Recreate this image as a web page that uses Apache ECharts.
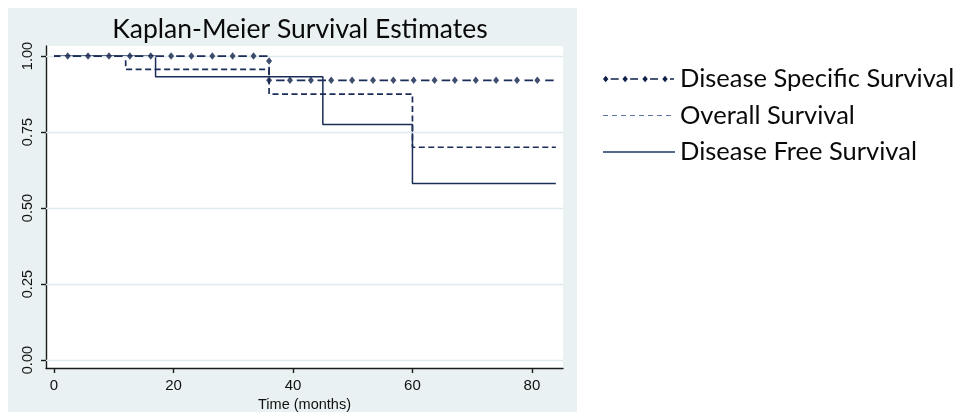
<!DOCTYPE html>
<html>
<head>
<meta charset="utf-8">
<script src="https://cdn.jsdelivr.net/npm/echarts@6/dist/echarts.min.js"></script>
<style>
html,body{margin:0;padding:0;background:#fff;}
#chart{width:965px;height:420px;}
</style>
</head>
<body>
<div id="chart"></div>
<script>
// ---- data ----
var titleText = 'Kaplan-Meier Survival Estimates';
var seriesNames = ['Disease Specific Survival', 'Overall Survival', 'Disease Free Survival'];
var xTicks = [0, 20, 40, 60, 80];
var yTicks = [0, 0.25, 0.5, 0.75, 1.0];
// step change points [time, survival]
var dssSteps = [[0, 1.0], [36, 0.92], [84, 0.92]];
var osSteps = [[0, 1.0], [12, 0.956], [36, 0.875], [60, 0.70], [84, 0.70]];
var dfsSteps = [[0, 1.0], [17, 0.932], [45, 0.775], [60, 0.581], [84, 0.581]];
// diamond markers drawn on the disease specific curve
var dssMarkers = [
  [2.3, 1.0], [5.7, 1.0], [9.2, 1.0], [12.7, 1.0], [16.2, 1.0], [19.6, 1.0],
  [23.0, 1.0], [26.5, 1.0], [29.9, 1.0], [33.4, 1.0], [36.0, 0.984],
  [36.0, 0.92], [39.5, 0.92], [43.0, 0.92], [46.4, 0.92], [49.9, 0.92],
  [53.4, 0.92], [56.8, 0.92], [60.2, 0.92], [63.7, 0.92], [67.1, 0.92],
  [70.6, 0.92], [74.0, 0.92], [77.5, 0.92], [80.9, 0.92]
];

var navy = '#1a2c58';
var markerNavy = '#10204a';
var axisFont = '"Liberation Sans", Arial, sans-serif';
var textFont = 'Lato, "Open Sans", sans-serif';

// legend icons (72 x 7 box)
var corners = 'M0 0h0.01v0.01h-0.01Z M71.99 6.99h0.01v0.01h-0.01Z ';
var dssIcon = 'path://' + corners +
  'M2.5 0.3L5.2 3.5L2.5 6.7L-0.2 3.5Z M22 0.3L24.7 3.5L22 6.7L19.3 3.5Z M42 0.3L44.7 3.5L42 6.7L39.3 3.5Z M62 0.3L64.7 3.5L62 6.7L59.3 3.5Z ' +
  'M7.5 2.8H15.5V4.2H7.5Z M27 2.8H35V4.2H27Z M47 2.8H55V4.2H47Z M67 2.8H71V4.2H67Z';
var osIcon = 'path://' + corners +
  'M0 3H5V4H0Z M9 3H14V4H9Z M18 3H23V4H18Z M27 3H32V4H27Z M36 3H41V4H36Z M45 3H50V4H45Z M54 3H59V4H54Z M63 3H68V4H63Z';
var dfsIcon = 'path://' + corners + 'M0 2.8H72V4.3H0Z';

var chart = echarts.init(document.getElementById('chart'), null, {renderer: 'canvas'});
var option = {
  animation: false,
  backgroundColor: '#ffffff',
  graphic: [{
    type: 'rect', z: -10, silent: true,
    shape: {x: 8, y: 8, width: 569, height: 404},
    style: {fill: '#e9f1f3'}
  }],
  title: {
    text: titleText,
    left: 295, top: 11, textAlign: 'center',
    textStyle: {fontFamily: textFont, fontSize: 26.5, fontWeight: 'normal', color: '#0a0a0a'}
  },
  legend: {
    orient: 'vertical',
    left: 598, top: 61,
    itemWidth: 72, itemHeight: 7, itemGap: 10.5,
    itemStyle: {borderWidth: 0},
    selectedMode: false,
    textStyle: {fontFamily: textFont, fontSize: 25.5, color: '#0a0a0a', lineHeight: 25},
    data: [
      {name: seriesNames[0], icon: dssIcon, itemStyle: {color: markerNavy}},
      {name: seriesNames[1], icon: osIcon, itemStyle: {color: '#5a76a6'}},
      {name: seriesNames[2], icon: dfsIcon, itemStyle: {color: '#22386a'}}
    ]
  },
  grid: {
    left: 46, right: 402, top: 46, bottom: 52,
    show: true, backgroundColor: '#ffffff', borderWidth: 0
  },
  xAxis: {
    type: 'value', min: -1.34, max: 85.2,
    name: 'Time (months)', nameLocation: 'middle', nameGap: 20,
    nameTextStyle: {fontFamily: axisFont, fontSize: 14.5, color: '#111'},
    axisLine: {show: true, onZero: false, lineStyle: {color: '#1a1a1a', width: 1.4}},
    axisTick: {show: true, length: 5, customValues: xTicks, lineStyle: {color: '#1a1a1a', width: 1.4}},
    axisLabel: {customValues: xTicks, margin: 10, fontFamily: axisFont, fontSize: 15, color: '#111'},
    splitLine: {show: false}
  },
  yAxis: {
    type: 'value', min: -0.026, max: 1.033,
    axisLine: {show: true, onZero: false, lineStyle: {color: '#1a1a1a', width: 1.4}},
    axisTick: {show: true, length: 5, customValues: yTicks, lineStyle: {color: '#1a1a1a', width: 1.4}},
    axisLabel: {
      customValues: yTicks, rotate: 90, margin: 11,
      fontFamily: axisFont, fontSize: 14.5, color: '#111',
      formatter: function (v) { return v.toFixed(2); }
    },
    splitLine: {show: false}
  },
  series: [
    {
      name: 'grid-lines', type: 'line', data: [], silent: true,
      markLine: {
        silent: true, symbol: 'none', animation: false,
        label: {show: false},
        lineStyle: {color: '#e0eaee', width: 1.3, type: 'solid'},
        data: yTicks.map(function (v) { return {yAxis: v}; })
      },
      z: 1
    },
    {
      name: seriesNames[2], type: 'line', step: 'end', data: dfsSteps,
      showSymbol: false, symbol: 'none', color: navy,
      lineStyle: {color: navy, width: 1.5, type: 'solid'}, z: 3
    },
    {
      name: seriesNames[1], type: 'line', step: 'end', data: osSteps,
      showSymbol: false, symbol: 'none', color: navy,
      lineStyle: {color: navy, width: 1.7, type: [6, 3.5]}, z: 4
    },
    {
      name: seriesNames[0], type: 'line', step: 'end', data: dssSteps,
      showSymbol: false, symbol: 'none', color: navy,
      lineStyle: {color: navy, width: 1.7, type: [8.5, 12.2], dashOffset: 2}, z: 5
    },
    {
      name: 'dss-markers', type: 'scatter', data: dssMarkers,
      symbol: 'diamond', symbolSize: [6, 7.5], color: markerNavy,
      itemStyle: {color: markerNavy}, silent: true, z: 6
    }
  ]
};
chart.setOption(option);
</script>
</body>
</html>
